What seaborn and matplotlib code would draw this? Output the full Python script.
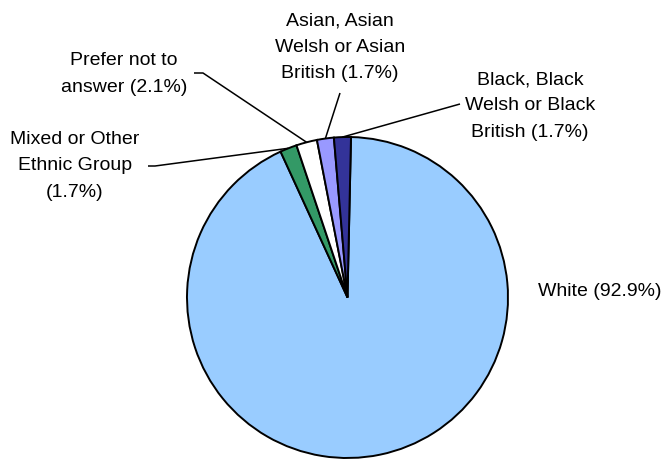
import numpy as np
import matplotlib
matplotlib.use("Agg")
import matplotlib.pyplot as plt
import seaborn as sns

# ---- data ----
categories = ["White", "Mixed or Other Ethnic Group", "Prefer not to answer",
              "Asian, Asian Welsh or Asian British", "Black, Black Welsh or Black British"]
values = [92.9, 1.7, 2.1, 1.7, 1.7]
labels = ["White (92.9%)",
          "Mixed or Other\nEthnic Group\n(1.7%)",
          "Prefer not to\nanswer (2.1%)",
          "Asian, Asian\nWelsh or Asian\nBritish (1.7%)",
          "Black, Black\nWelsh or Black\nBritish (1.7%)"]
colors = ["#99CCFF", "#339966", "#FFFFFF", "#9999FF", "#333399"]

sns.set_theme(style="white")
plt.rcParams['font.family'] = ['Liberation Sans', 'DejaVu Sans']

W, H = 665, 459
fig = plt.figure(figsize=(W / 100, H / 100), dpi=100)
ax = fig.add_axes([0, 0, 1, 1])

cx, cy, r = 347.5, H - 297.5, 160.5
wedges, _ = ax.pie(values, colors=colors, startangle=88.75, counterclock=False,
                   center=(cx, cy), radius=r,
                   wedgeprops=dict(edgecolor="black", linewidth=1.4))
ax.set_xlim(0, W)
ax.set_ylim(0, H)
ax.set_aspect("equal")
ax.axis("off")

# label layout (pixel coords, y from top): text center, leader-line points
layout = [
    dict(text=(538, 291), ha="left", line=None),
    dict(text=(75, 166), ha="center", line=[(155, 166), (148, 166)]),
    dict(text=(124, 74), ha="center", line=[(203, 73), (194, 73)]),
    dict(text=(340, 47), ha="center", line=[(340, 93)]),
    dict(text=(530, 106), ha="center", line=[(460, 104)]),
]

fs = 14
for w, lab, lay in zip(wedges, labels, layout):
    tx, ty = lay["text"]
    ax.text(tx, H - ty, lab, ha=lay["ha"], va="center", fontsize=fs,
            color="black", linespacing=1.72, multialignment="center")
    if lay["line"]:
        th = np.deg2rad((w.theta1 + w.theta2) / 2)
        pts = [(cx + r * np.cos(th), cy + r * np.sin(th))]
        pts += [(x, H - y) for x, y in lay["line"]]
        xs, ys = zip(*pts)
        ax.plot(xs, ys, color="black", linewidth=1.1, solid_capstyle="butt")

fig.savefig("out.png", dpi=100)
